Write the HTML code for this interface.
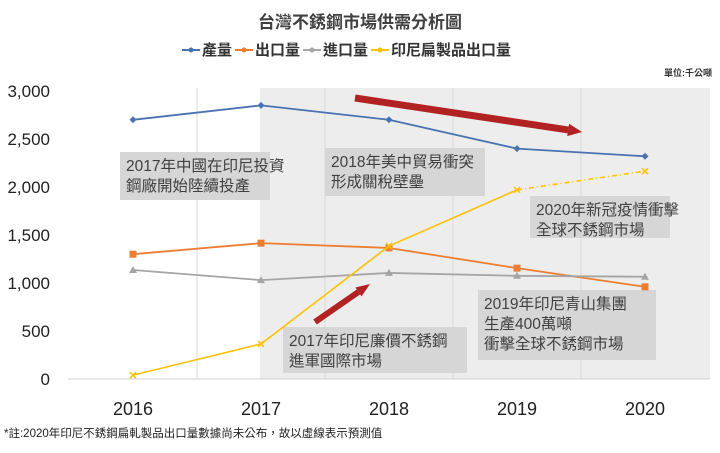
<!DOCTYPE html>
<html><head><meta charset="utf-8">
<style>
body{margin:0;background:#fff;width:720px;height:448px;overflow:hidden}
svg text{font-family:"Liberation Sans","Noto Sans CJK TC",sans-serif}
</style></head>
<body>
<svg id="chart" width="720" height="448" viewBox="0 0 720 448" xmlns="http://www.w3.org/2000/svg">
<text x="360" y="28" text-anchor="middle" font-size="17" font-weight="bold" fill="#404040">台灣不銹鋼市場供需分析圖</text>
<g id="legend"></g>
<text x="712" y="76" text-anchor="end" font-size="9" font-weight="bold" fill="#333">單位:千公噸</text>
<rect x="260" y="88" width="450" height="291" fill="#ededed"/>
<g id="grid"></g>
<g id="axes"></g>
<g id="boxes"></g>
<g id="series"></g>
<text x="4" y="437" font-size="11.5" fill="#222">*註:2020年印尼不銹鋼扁軋製品出口量數據尚未公布，故以虛線表示預測值</text>
</svg>
<script>
const years=["2016","2017","2018","2019","2020"];
const production=[2700,2850,2700,2400,2320];
const exportVol=[1300,1415,1365,1155,960];
const importVol=[1135,1030,1105,1075,1065];
const indonesia=[40,365,1385,1970,2165];
const yTicks=[0,500,1000,1500,2000,2500,3000];
const yTickLabels=["0","500","1,000","1,500","2,000","2,500","3,000"];
const seriesNames=["產量","出口量","進口量","印尼扁製品出口量"];
const NS="http://www.w3.org/2000/svg";
const x=i=>133+i*128;
const y=v=>379-v*0.096;
function el(t,a,p){const e=document.createElementNS(NS,t);for(const k in a)e.setAttribute(k,a[k]);(p||document.getElementById('chart')).appendChild(e);return e;}
const grid=document.getElementById('grid'),axes=document.getElementById('axes');
for(let i=0;i<4;i++){const g=el('line',{x1:x(i)+64,x2:x(i)+64,y1:88,y2:379,stroke:'#d9d9d9','stroke-width':1},grid);

}
const ax=el('line',{x1:68,x2:710,y1:y(0),y2:y(0),stroke:'#d0d0d0'},axes);


yTicks.forEach((v,i)=>{const t=el('text',{x:50,y:y(v)+6,'text-anchor':'end','font-size':17,fill:'#222'},axes);t.textContent=yTickLabels[i];

});
years.forEach((yr,i)=>{const t=el('text',{x:x(i),y:415,'text-anchor':'middle','font-size':18,fill:'#222'},axes);t.textContent=yr;

});
const boxes=[[120,152,150,48,["2017年中國在印尼投資","鋼廠開始陸續投產"]],[325,148,160,48,["2018年美中貿易衝突","形成關稅壁壘"]],[530,196,140,42,["2020年新冠疫情衝擊","全球不銹鋼市場"]],[478,290,178,70,["2019年印尼青山集團","生產400萬噸","衝擊全球不銹鋼市場"]],[283,327,184,46,["2017年印尼廉價不銹鋼","進軍國際市場"]]];
const bg=document.getElementById('boxes');
boxes.forEach(b=>{const g=el('g',{},bg);


el('rect',{x:b[0],y:b[1],width:b[2],height:b[3],fill:'#d6d6d6'},g);
b[4].forEach((s,j)=>{const t=el('text',{x:b[0]+6,y:b[1]+19+j*20,'font-size':15.5,fill:'#404040'},g);t.textContent=s;});});
function arrow(x1,y1,x2,y2,w,name){const a=Math.atan2(y2-y1,x2-x1),h=14;const bx=x2-h*Math.cos(a),by=y2-h*Math.sin(a);
const l=el('line',{x1:x1,y1:y1,x2:bx,y2:by,stroke:'#b22222','stroke-width':w},bg);


const px=-Math.sin(a),py=Math.cos(a),hw=w*0.9;
el('polygon',{points:`${x2},${y2} ${bx+px*hw},${by+py*hw} ${bx-px*hw},${by-py*hw}`,fill:'#b22222'},bg);}
arrow(355,98,582,132,7,'decline-arrow');
arrow(315,322,370,284,6,'rise-arrow');
const sg=document.getElementById('series');
const defs=[[production,'#4a72b0','diamond'],[exportVol,'#ed7d31','square'],[importVol,'#a5a5a5','triangle'],[indonesia,'#ffc000','x']];
defs.forEach((d,si)=>{const [vals,c,m]=d;const g=el('g',{},sg);


const solidN=si===3?4:5;
const pts=vals.slice(0,solidN).map((v,i)=>x(i)+','+y(v)).join(' ');
el('polyline',{points:pts,fill:'none',stroke:c,'stroke-width':si===3?1.6:1.8},g);
if(si===3){el('line',{x1:x(3),y1:y(vals[3]),x2:x(4),y2:y(vals[4]),stroke:c,'stroke-width':1.6,'stroke-dasharray':'5,3,1,3'},g);}
vals.forEach((v,i)=>{const cx=x(i),cy=y(v);let mk;
if(m==='diamond')mk=el('polygon',{points:`${cx},${cy-3.5} ${cx+3.5},${cy} ${cx},${cy+3.5} ${cx-3.5},${cy}`,fill:c},g);
else if(m==='square')mk=el('rect',{x:cx-3.5,y:cy-3.5,width:7,height:7,fill:c},g);
else if(m==='triangle')mk=el('polygon',{points:`${cx},${cy-4} ${cx+4},${cy+3} ${cx-4},${cy+3}`,fill:c},g);
else mk=el('path',{d:`M${cx-3},${cy-3}L${cx+3},${cy+3}M${cx+3},${cy-3}L${cx-3},${cy+3}`,stroke:c,'stroke-width':1.5},g);

});});
const lg=document.getElementById('legend');let lx=182;
defs.forEach((d,i)=>{const e=el('g',{},lg);


el('line',{x1:lx,x2:lx+18,y1:50,y2:50,stroke:d[1],'stroke-width':2},e);
el('circle',{cx:lx+9,cy:50,r:2.5,fill:d[1]},e);
const t=el('text',{x:lx+20,y:55,'font-size':15,'font-weight':'bold',fill:'#333'},e);t.textContent=seriesNames[i];
lx+=20+seriesNames[i].length*15+3;});
</script>
</body></html>
